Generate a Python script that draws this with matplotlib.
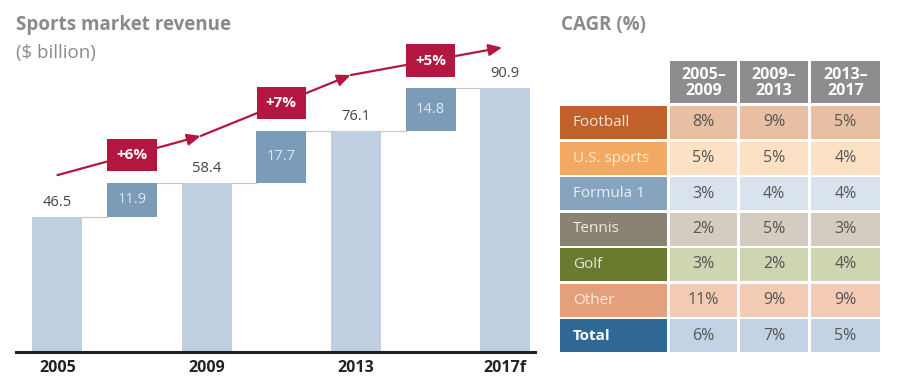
"""
Sports market revenue waterfall + CAGR table.
"""

import matplotlib.pyplot as plt
import matplotlib.patches as patches

# --- donnees ---
years = ["2005", "2009", "2013", "2017f"]
totals = [46.5, 58.4, 76.1, 90.9]
increments = [11.9, 17.7, 14.8]
growth_labels = ["+6%", "+7%", "+5%"]

sports = ["Football", "U.S. sports", "Formula 1", "Tennis", "Golf", "Other", "Total"]
periods = ["2005–\n2009", "2009–\n2013", "2013–\n2017"]
cagr_0509 = [8, 5, 3, 2, 3, 11, 6]
cagr_0913 = [9, 5, 4, 5, 2, 9, 7]
cagr_1317 = [5, 4, 4, 3, 4, 9, 5]

label_colors = ["#c0612c", "#f4a962", "#87a4bf", "#8a8272", "#6a7a2f", "#e4a07c", "#2f6892"]
cell_colors = ["#e8bfa2", "#fde1c4", "#d9e3ee", "#d4ccc0", "#cdd5b1", "#f3cab3", "#c3d3e5"]
text_colors = ["#f6e2d6", "#fee8d0", "#e8eef5", "#eeeae4", "#e4ead4", "#fbe8de", "#ffffff"]

FONT = "Open Sans"
plt.rcParams["font.family"] = [FONT, "DejaVu Sans"]

W, H = 900, 379
fig = plt.figure(figsize=(W / 100, H / 100), dpi=100)
fig.patch.set_facecolor("white")

# --- waterfall ---
ax_left, ax_right, ax_top, ax_base = 16, 535, 30, 352
ax = fig.add_axes([ax_left / W, 1 - ax_base / H, (ax_right - ax_left) / W, (ax_base - ax_top) / H])
ax.set_xlim(-0.556, 6.40)
ax.set_ylim(0, (ax_base - ax_top) / 2.9)
ax.axis("off")

TOTAL_C = "#bfcfe1"
INC_C = "#7b9cb9"
RED = "#b3173f"
BW = 0.67

for i, v in enumerate(totals):
    x = 2 * i
    ax.bar(x, v, width=BW, color=TOTAL_C, zorder=2)
    ax.annotate(f"{v:.1f}", (x, v), xytext=(0, 5), textcoords="offset points",
                ha="center", va="bottom", fontsize=10.5, color="#444444")

for j, inc in enumerate(increments):
    x = 2 * j + 1
    base = totals[j]
    ax.bar(x, inc, bottom=base, width=BW, color=INC_C, zorder=2)
    ax.text(x, base + inc / 2, f"{inc:.1f}", ha="center", va="center",
            fontsize=10.5, color="#dfe8f1", zorder=3)
    # connecteurs
    ax.plot([x - 1 + BW / 2, x - BW / 2], [base, base], color="#c4c4c4", lw=0.8, zorder=1)
    ax.plot([x + BW / 2, x + 1 - BW / 2], [base + inc, base + inc], color="#c4c4c4", lw=0.8, zorder=1)

# axe
ax.plot([-0.556, 6.40], [0, 0], color="#222222", lw=2.2, clip_on=False, zorder=4)
for i, y in enumerate(years):
    ax.text(2 * i, -5.4, y, ha="center", va="center", fontsize=11.5,
            fontweight="bold", color="#222222")

# fleche de croissance
path = [(0, 61), (1.92, 74.5), (3.93, 95.5), (5.96, 105)]
for (x0, y0), (x1, y1) in zip(path[:-1], path[1:]):
    ax.annotate("", xy=(x1, y1), xytext=(x0, y0),
                arrowprops=dict(arrowstyle="-|>,head_length=0.8,head_width=0.35",
                                color=RED, lw=1.6, shrinkA=0, shrinkB=0),
                annotation_clip=False, zorder=5)

for j, lab in enumerate(growth_labels):
    x = 2 * j + 1
    (x0, y0), (x1, y1) = path[j], path[j + 1]
    y = y0 + (y1 - y0) * (x - x0) / (x1 - x0)
    ax.text(x, y, lab, ha="center", va="center", fontsize=11, fontweight="bold",
            color="white", zorder=6,
            bbox=dict(boxstyle="square,pad=0.6", fc=RED, ec="none"))

# --- titres et tableau (coordonnees pixels) ---
ov = fig.add_axes([0, 0, 1, 1])
ov.set_xlim(0, W)
ov.set_ylim(H, 0)
ov.axis("off")
ov.patch.set_alpha(0)

ov.text(16, 25, "Sports market revenue", fontsize=13.5, fontweight="bold",
        color="#8a8a8a", va="center", ha="left")
ov.text(16, 53, "($ billion)", fontsize=13.5, color="#8a8a8a", va="center", ha="left")
ov.text(561, 25, "CAGR (%)", fontsize=13.5, fontweight="bold",
        color="#8a8a8a", va="center", ha="left")

label_x0, label_x1 = 560, 667
col_edges = [(670, 737), (740, 808), (811, 880)]
hdr_top, hdr_bot = 61, 103
row_top0, row_step, row_h = 106, 35.5, 33

for (c0, c1), p in zip(col_edges, periods):
    ov.add_patch(patches.Rectangle((c0, hdr_top), c1 - c0, hdr_bot - hdr_top,
                                   fc="#8d8d8d", ec="none"))
    ov.text((c0 + c1) / 2, (hdr_top + hdr_bot) / 2 + 1, p, ha="center", va="center",
            fontsize=11.5, fontweight="bold", color="white", linespacing=1.0)

columns = [cagr_0509, cagr_0913, cagr_1317]
for r, name in enumerate(sports):
    top = row_top0 + r * row_step
    ov.add_patch(patches.Rectangle((label_x0, top), label_x1 - label_x0, row_h,
                                   fc=label_colors[r], ec="none"))
    ov.text(label_x0 + 13, top + row_h / 2, name, ha="left", va="center",
            fontsize=11, color=text_colors[r],
            fontweight="bold" if name == "Total" else "normal")
    for (c0, c1), col in zip(col_edges, columns):
        ov.add_patch(patches.Rectangle((c0, top), c1 - c0, row_h,
                                       fc=cell_colors[r], ec="none"))
        ov.text((c0 + c1) / 2, top + row_h / 2, f"{col[r]}%", ha="center", va="center",
                fontsize=11.5, color="#555555")

fig.savefig("out.png", dpi=100, facecolor="white")
